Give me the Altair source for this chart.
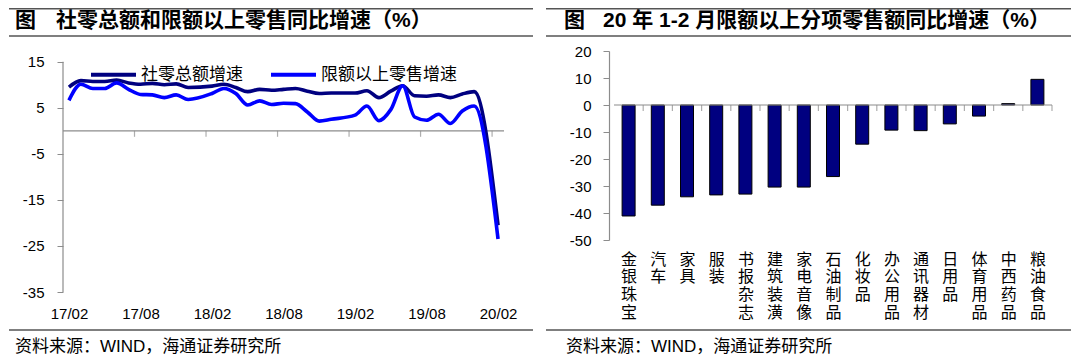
import altair as alt
import pandas as pd

# ---------------- left panel data ----------------
months = ["17/02", "17/03", "17/04", "17/05", "17/06", "17/07", "17/08", "17/09", "17/10", "17/11", "17/12",
          "18/02", "18/03", "18/04", "18/05", "18/06", "18/07", "18/08", "18/09", "18/10", "18/11", "18/12",
          "19/02", "19/03", "19/04", "19/05", "19/06", "19/07", "19/08", "19/09", "19/10", "19/11", "19/12",
          "20/02"]
total_retail = [9.5, 10.9, 10.7, 10.7, 11.0, 10.4, 10.1, 10.3, 10.0, 10.2, 9.4,
                9.7, 10.1, 9.4, 8.5, 9.0, 8.8, 9.0, 9.2, 8.6, 8.1, 8.2,
                8.2, 8.7, 7.2, 8.6, 9.8, 7.6, 7.5, 7.8, 7.2, 8.0, 8.5,
                -20.5]
above_quota = [6.6, 10.1, 9.2, 9.2, 10.4, 9.0, 7.9, 7.8, 7.2, 7.8, 6.8,
               8.1, 9.2, 8.1, 5.6, 6.5, 5.7, 6.0, 5.9, 4.1, 2.1, 2.5,
               3.4, 5.4, 2.2, 4.6, 9.8, 3.0, 2.3, 3.6, 1.6, 4.3, 5.4,
               -23.5]
series_names = ["社零总额增速", "限额以上零售增速"]
x_tick_labels = ["17/02", "17/08", "18/02", "18/08", "19/02", "19/08", "20/02"]
y_left_ticks = [15, 5, -5, -15, -25, -35]

# ---------------- right panel data ----------------
categories = ["金银珠宝", "汽车", "家具", "服装", "书报杂志", "建筑装潢", "家电音像", "石油制品",
              "化妆品", "办公用品", "通讯器材", "日用品", "体育用品", "中西药品", "粮油食品"]
cat_values = [-41.1, -37.1, -34.0, -33.3, -33.0, -30.4, -30.4, -26.5,
              -14.5, -9.3, -9.5, -7.0, -4.1, 0.5, 9.5]
y_right_ticks = [20, 10, 0, -10, -20, -30, -40, -50]

left_title = "社零总额和限额以上零售同比增速（%）"
right_title = "20 年 1-2 月限额以上分项零售额同比增速（%）"
fig_mark = "图"
source_text = "资料来源：WIND，海通证券研究所"

FONT_NUM = "Liberation Sans"
FONT_CJK = "Noto Sans CJK SC"
FONT_MIX = "Liberation Sans, Noto Sans CJK SC"
GRAY = "#8c8c8c"
NAVY = "#000080"
BLUE = "#0000FF"


def month_index(m):
    yy, mm = m.split("/")
    return (int(yy) - 17) * 12 + int(mm) - 2


rows = []
for name, vals in zip(series_names, [total_retail, above_quota]):
    for m, v in zip(months, vals):
        rows.append({"series": name, "idx": month_index(m), "val": v})
left_df = pd.DataFrame(rows)

n_slots = month_index(months[-1]) + 1
x_tick_vals = [month_index(m) for m in x_tick_labels]
labels_js = "[" + ",".join(f"'{s}'" for s in x_tick_labels) + "]"
vals_js = "[" + ",".join(str(v) for v in x_tick_vals) + "]"

LW, LH = 441, 241
x_left_scale = alt.Scale(domain=[-0.5, n_slots - 0.5], nice=False, zero=False)
y_left_scale = alt.Scale(domain=[-35, 17.33], nice=False, zero=False)
x_left_axis = alt.Axis(values=x_tick_vals, labelExpr=f"{labels_js}[indexof({vals_js}, datum.value)]",
                       ticks=False, domain=False, grid=False, labelPadding=14, labelFontSize=15,
                       labelFont=FONT_NUM, labelColor="black", title=None, labelOverlap=False,
                       labelFlush=False)
y_left_axis = alt.Axis(values=y_left_ticks, labelExpr="'' + datum.value", domain=False, grid=False,
                       tickSize=6, tickColor=GRAY, labelPadding=13, labelFontSize=15,
                       labelFont=FONT_NUM, labelColor="black", title=None, labelOverlap=False)


def X(field, scale, axis):
    return alt.X(field, type="quantitative", scale=scale, axis=axis)


def Y(field, scale, axis):
    return alt.Y(field, type="quantitative", scale=scale, axis=axis)


def text_layer(txt, x, y, size, weight="normal", font=FONT_MIX):
    return alt.Chart(pd.DataFrame({"t": [txt]})).mark_text(
        align="left", baseline="middle", fontSize=size, fontWeight=weight, font=font, color="black"
    ).encode(text="t:N", x=alt.value(x), y=alt.value(y))


def hline(x1, x2, y, color="#555555", width=1.6):
    return alt.Chart(pd.DataFrame({"a": [0]})).mark_rule(color=color, strokeWidth=width).encode(
        x=alt.value(x1), x2=alt.value(x2), y=alt.value(y))


# left layers
yaxis_df = pd.DataFrame({"idx": [-0.5], "y1": [max(y_left_ticks)], "y2": [min(y_left_ticks)]})
left_yaxis = alt.Chart(yaxis_df).mark_rule(color=GRAY, strokeWidth=1.2).encode(
    x=X("idx", x_left_scale, x_left_axis), y=Y("y1", y_left_scale, y_left_axis), y2="y2")

zero_df = pd.DataFrame({"idx": [-0.5], "idx2": [n_slots - 0.5], "val": [0]})
left_zero = alt.Chart(zero_df).mark_rule(color=GRAY, strokeWidth=1.2).encode(
    x=X("idx", x_left_scale, x_left_axis), x2="idx2", y=Y("val", y_left_scale, y_left_axis))

tick_df = pd.DataFrame({"idx": [v - 0.5 for v in x_tick_vals[1:]], "val": [0] * (len(x_tick_vals) - 1)})
left_ticks = alt.Chart(tick_df).mark_tick(orient="vertical", size=6, thickness=1.2, color=GRAY, yOffset=3).encode(
    x=X("idx", x_left_scale, x_left_axis), y=Y("val", y_left_scale, y_left_axis))

left_lines = alt.Chart(left_df).mark_line(strokeWidth=3.6, interpolate="monotone").encode(
    x=X("idx", x_left_scale, x_left_axis),
    y=Y("val", y_left_scale, y_left_axis),
    color=alt.Color("series:N", scale=alt.Scale(domain=series_names, range=[NAVY, BLUE]),
                    legend=alt.Legend(orient="none", legendX=26, legendY=-1, direction="horizontal",
                                      symbolType="stroke", symbolStrokeWidth=4, symbolSize=2025,
                                      labelFontSize=17, labelFont=FONT_CJK, labelColor="black",
                                      labelOffset=3, columnPadding=20, title=None)),
)

left = alt.layer(
    hline(-54, 470, -42.2),
    hline(-54, 470, -15),
    text_layer(fig_mark, -48, -30, 21, "bold"),
    text_layer(left_title, -7, -30, 21, "bold"),
    left_yaxis, left_zero, left_lines, left_ticks,
    hline(-54, 470, 279),
    text_layer(source_text, -48, 296, 17),
).properties(width=LW, height=LH)

# right panel
right_df = pd.DataFrame({"idx": list(range(len(categories))), "val": cat_values})
RW, RH = 448, 189
x_right_scale = alt.Scale(domain=[-0.5, len(categories) - 0.5], nice=False, zero=False)
y_right_scale = alt.Scale(domain=[min(y_right_ticks), max(y_right_ticks)], nice=False, zero=False)
cats_js = "[" + ",".join(f"'{c}'" for c in categories) + "]"
x_right_axis = alt.Axis(values=list(range(len(categories))), labelExpr=f"split({cats_js}[datum.value], '')",
                        ticks=False, domain=False, grid=False, labelPadding=11, labelFontSize=16,
                        labelFont=FONT_CJK, labelColor="black", labelBaseline="top", labelLineHeight=17.8,
                        title=None, labelOverlap=False, labelFlush=False)
y_right_axis = alt.Axis(values=y_right_ticks, labelExpr="'' + datum.value", domain=True, domainColor=GRAY,
                        domainWidth=1.2, grid=False, tickSize=6, tickColor=GRAY, labelPadding=12,
                        labelFontSize=15, labelFont=FONT_NUM, labelColor="black", title=None,
                        labelOverlap=False)

bars = alt.Chart(right_df).mark_bar(size=13, color=NAVY, stroke="black", strokeWidth=1, orient="vertical").encode(
    x=X("idx", x_right_scale, x_right_axis), y=Y("val", y_right_scale, y_right_axis), y2=alt.datum(0))

rzero_df = pd.DataFrame({"idx": [-0.5], "idx2": [len(categories) - 0.5], "val": [0]})
right_zero = alt.Chart(rzero_df).mark_rule(color=GRAY, strokeWidth=1.2).encode(
    x=X("idx", x_right_scale, x_right_axis), x2="idx2", y=Y("val", y_right_scale, y_right_axis))
rtick_df = pd.DataFrame({"idx": [i + 0.5 for i in range(len(categories))], "val": [0] * len(categories)})
right_ticks = alt.Chart(rtick_df).mark_tick(orient="vertical", size=6, thickness=1.2, color=GRAY, yOffset=3).encode(
    x=X("idx", x_right_scale, x_right_axis), y=Y("val", y_right_scale, y_right_axis))

right = alt.layer(
    hline(-63, 462, -42.2),
    hline(-63, 462, -15),
    text_layer(fig_mark, -45, -30, 21, "bold"),
    text_layer(right_title, -6, -30, 21, "bold"),
    bars, right_zero, right_ticks,
    hline(-63, 462, 279),
    text_layer(source_text, -43, 296, 17),
).properties(width=RW, height=RH)

chart = alt.hconcat(left, right, spacing=105, bounds="flush").properties(
    padding=0, background="white").configure_view(stroke=None)

chart.save("out.html", embed_options={"renderer": "svg", "actions": False})
